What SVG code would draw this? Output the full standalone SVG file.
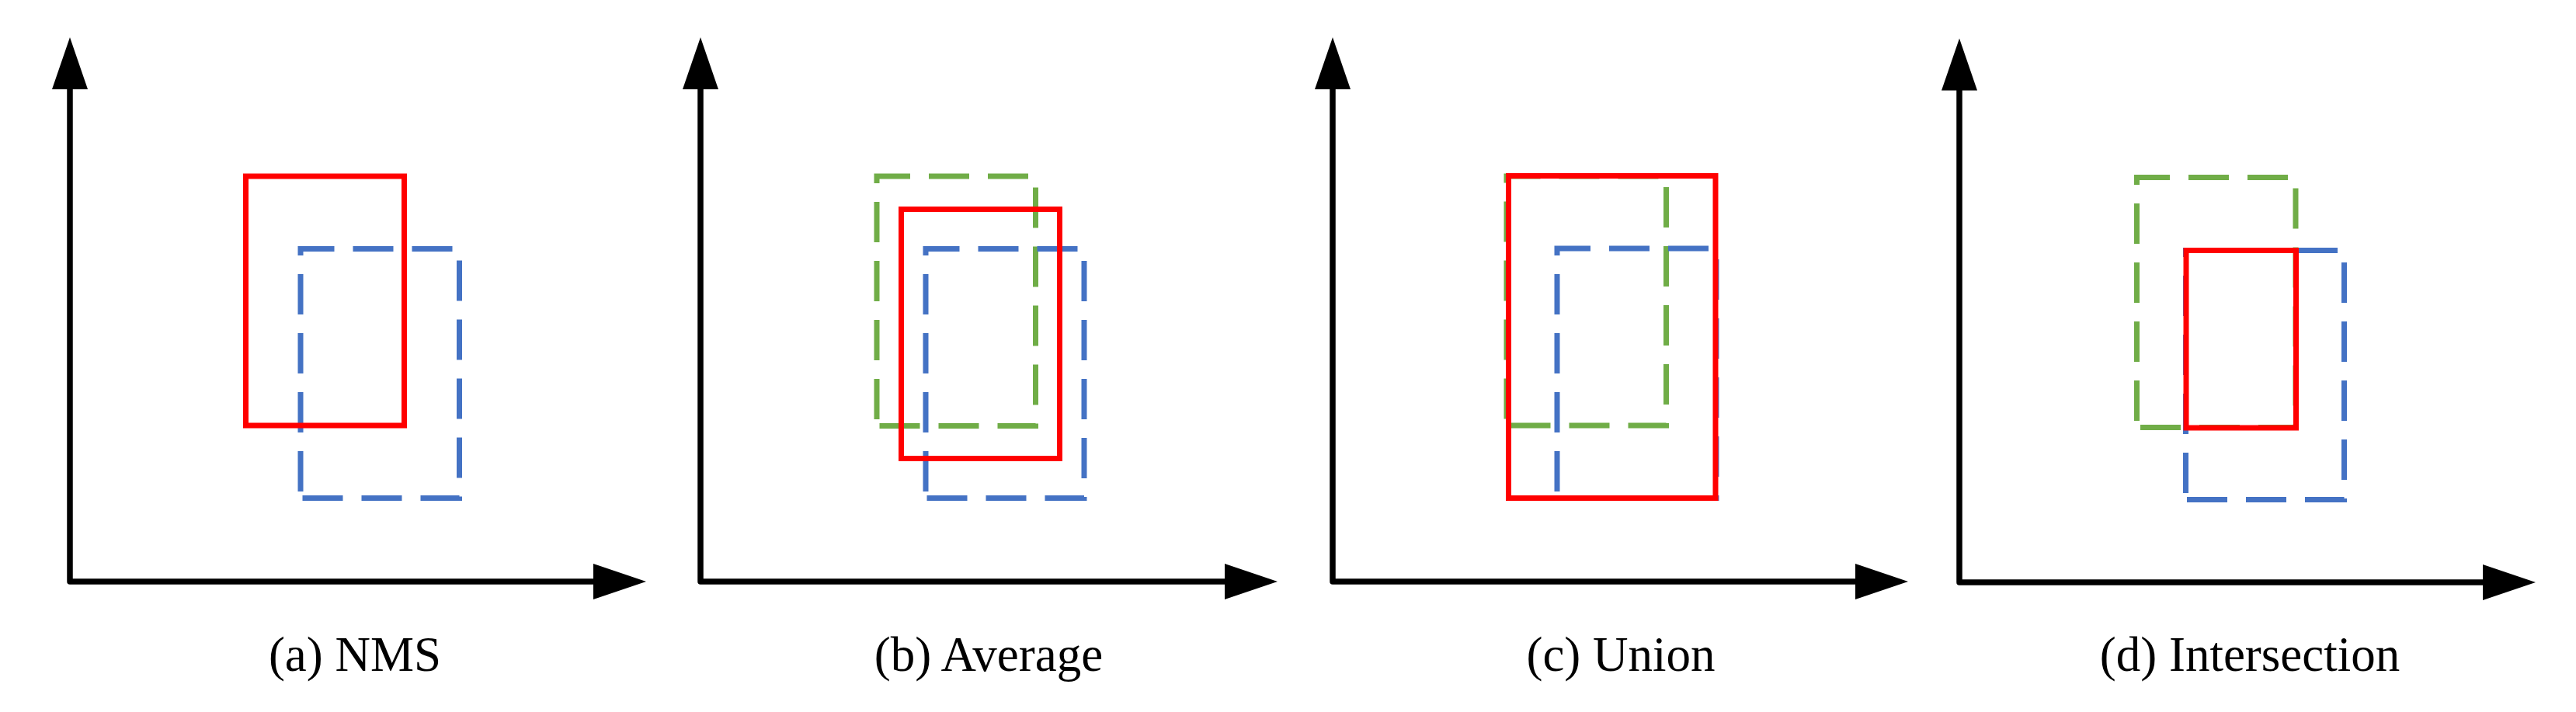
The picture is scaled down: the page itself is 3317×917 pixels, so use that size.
<svg xmlns="http://www.w3.org/2000/svg" width="3317" height="917" viewBox="0 0 3317 917">
<style>
.ax{fill:none;stroke:#000;stroke-width:7.5;stroke-linejoin:round}
.ah{fill:#000;stroke:none}
.red{fill:none;stroke:#FF0000;stroke-width:7}
.blue{fill:none;stroke:#4472C4;stroke-width:7;stroke-dasharray:52 24;stroke-dashoffset:67.5}
.green{fill:none;stroke:#70AD47;stroke-width:7;stroke-dasharray:52 24;stroke-dashoffset:67.5}
.lbl{font-family:"Liberation Serif","Times New Roman",serif;font-size:63px;fill:#000;text-anchor:middle}
</style>
<rect width="3317" height="917" fill="#fff"/>
<g id="panel-a">
  <g id="axes-a">
    <path class="ax" d="M90,112 V749 H767"/>
    <polygon class="ah" points="90,48 67,115 113,115"/>
    <polygon class="ah" points="832,749 764,726 764,772"/>
  </g>
  <path id="a-blue" class="blue" d="M387,641.5 V320.5 H591.5 V641.5 Z"/>
  <rect id="a-red" class="red" x="316.5" y="227" width="204" height="321"/>
  <text class="lbl" x="457" y="864">(a) NMS</text>
</g>
<g id="panel-b">
  <g id="axes-b">
    <path class="ax" d="M902,112 V749 H1580"/>
    <polygon class="ah" points="902,48 879,115 925,115"/>
    <polygon class="ah" points="1645,749 1577,726 1577,772"/>
  </g>
  <path id="b-green" class="green" d="M1129,548.5 V227 H1333.5 V548.5 Z"/>
  <path id="b-blue" class="blue" d="M1192,641.5 V320.5 H1396 V641.5 Z"/>
  <rect id="b-red" class="red" x="1160.5" y="269.5" width="204" height="321"/>
  <text class="lbl" x="1273" y="864">(b) Average</text>
</g>
<g id="panel-c">
  <g id="axes-c">
    <path class="ax" d="M1716,112 V749 H2392"/>
    <polygon class="ah" points="1716,48 1693,115 1739,115"/>
    <polygon class="ah" points="2457,749 2389,726 2389,772"/>
  </g>
  <path id="c-green" class="green" d="M1940,548 V227 H2145.5 V548 Z"/>
  <path id="c-blue" class="blue" d="M2005,641.5 V320 H2210 V641.5 Z"/>
  <rect id="c-red" class="red" x="1942.5" y="226.5" width="266.5" height="415"/>
  <text class="lbl" x="2087" y="864">(c) Union</text>
</g>
<g id="panel-d">
  <g id="axes-d">
    <path class="ax" d="M2523,113 V750 H3200"/>
    <polygon class="ah" points="2523,49.5 2500,116.5 2546,116.5"/>
    <polygon class="ah" points="3265,750 3197,727 3197,773"/>
  </g>
  <path id="d-green" class="green" d="M2751.5,550.5 V228.5 H2956 V550.5 Z"/>
  <path id="d-blue" class="blue" d="M2814.5,643.5 V322.5 H3018.5 V643.5 Z"/>
  <rect id="d-red" class="red" x="2815" y="322.5" width="141.5" height="228.5"/>
  <text class="lbl" x="2897" y="864">(d) Intersection</text>
</g>
</svg>
